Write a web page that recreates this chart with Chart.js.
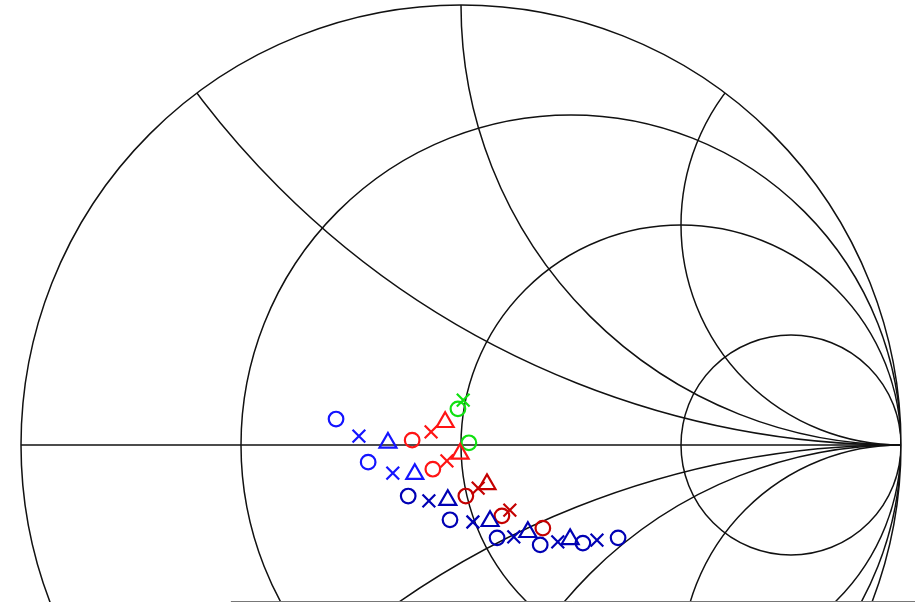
<!DOCTYPE html>
<html>
<head>
<meta charset="utf-8">
<title>Smith chart</title>
<script src="https://cdn.jsdelivr.net/npm/chart.js@4"></script>
<style>
  html, body { margin: 0; padding: 0; background: #fff; overflow: hidden; }
  #wrap { width: 915px; height: 602px; }
</style>
</head>
<body>
<div id="wrap"><canvas id="smith" width="915" height="602"></canvas></div>
<script>
let blueRe   = [-0.284, -0.232, -0.166, -0.211, -0.155, -0.105];
let blueIm   = [ 0.059,  0.020,  0.005, -0.039, -0.064, -0.066];
let blueMark = ["circle", "crossRot", "triangle", "circle", "crossRot", "triangle"];

let navyRe   = [-0.120, -0.073, -0.030, -0.025, 0.027, 0.066, 0.082, 0.120, 0.152, 0.180, 0.220, 0.248, 0.277, 0.309, 0.357];
let navyIm   = [-0.116, -0.127, -0.125, -0.170, -0.175, -0.173, -0.211, -0.209, -0.198, -0.227, -0.220, -0.214, -0.223, -0.216, -0.211];
let navyMark = ["circle", "crossRot", "triangle", "circle", "crossRot", "triangle", "circle", "crossRot", "triangle", "circle", "crossRot", "triangle", "circle", "crossRot", "circle"];

let redRe    = [-0.111, -0.068, -0.036, -0.064, -0.032, -0.002];
let redIm    = [ 0.011,  0.030,  0.052, -0.055, -0.036, -0.020];
let redMark  = ["circle", "crossRot", "triangle", "circle", "crossRot", "triangle"];

let maroonRe   = [0.011, 0.039, 0.059, 0.093, 0.111, 0.186];
let maroonIm   = [-0.116, -0.098, -0.089, -0.161, -0.148, -0.189];
let maroonMark = ["circle", "crossRot", "triangle", "circle", "crossRot", "circle"];

let greenRe   = [-0.007, 0.005, 0.018];
let greenIm   = [ 0.082, 0.102, 0.005];
let greenMark = ["circle", "crossRot", "circle"];

// grid of the chart
let resistances = [1 / 3, 1, 3];
let reactances = [0.5, 1, 2];

function pts(re, im) {
    return re.map(function(v, i) { return { x: v, y: im[i] }; });
}

function series(label, re, im, marks, color) {
    return {
        label: label,
        data: pts(re, im),
        pointStyle: marks,
        pointRadius: marks.map(function(m) { return m == "triangle" ? 9.8 : (m == "crossRot" ? 9 : 7.3); }),
        pointBorderColor: color,
        pointBackgroundColor: "rgba(0,0,0,0)",
        pointBorderWidth: 2.2,
        showLine: false
    };
}

// draws the smith chart grid under the points
let smithGrid = {
    id: "smithGrid",
    beforeDatasetsDraw: function(chart) {
        let ctx = chart.ctx;
        let xs = chart.scales.x, ys = chart.scales.y;
        let cx = xs.getPixelForValue(0), cy = ys.getPixelForValue(0);
        let R = xs.getPixelForValue(1) - cx;

        ctx.save();
        ctx.strokeStyle = "#111";
        ctx.lineWidth = 1.5;

        ctx.beginPath();
        ctx.arc(cx, cy, R, 0, Math.PI * 2);
        ctx.stroke();

        ctx.beginPath();
        ctx.arc(cx, cy, R, 0, Math.PI * 2);
        ctx.clip();

        resistances.forEach(function(r) {
            ctx.beginPath();
            ctx.arc(xs.getPixelForValue(r / (1 + r)), cy, R / (1 + r), 0, Math.PI * 2);
            ctx.stroke();
        });

        reactances.forEach(function(x) {
            [1, -1].forEach(function(s) {
                ctx.beginPath();
                ctx.arc(xs.getPixelForValue(1), ys.getPixelForValue(s / x), R / x, 0, Math.PI * 2);
                ctx.stroke();
            });
        });

        ctx.beginPath();
        ctx.moveTo(cx - R, cy);
        ctx.lineTo(cx + R, cy);
        ctx.stroke();
        ctx.restore();

        // frame line along the bottom edge
        ctx.save();
        ctx.strokeStyle = "#777";
        ctx.lineWidth = 1;
        ctx.beginPath();
        ctx.moveTo(xs.getPixelForValue(-0.523), chart.chartArea.bottom - 0.5);
        ctx.lineTo(chart.chartArea.right, chart.chartArea.bottom - 0.5);
        ctx.stroke();
        ctx.restore();
    }
};

new Chart(document.getElementById("smith").getContext("2d"), {
    type: "scatter",
    data: {
        datasets: [
            series("A", blueRe, blueIm, blueMark, "#1414ff"),
            series("B", navyRe, navyIm, navyMark, "#0000b4"),
            series("C", redRe, redIm, redMark, "#ff1414"),
            series("D", maroonRe, maroonIm, maroonMark, "#c40000"),
            series("E", greenRe, greenIm, greenMark, "#10e010")
        ]
    },
    options: {
        responsive: false,
        animation: false,
        layout: { padding: 0, autoPadding: false },
        plugins: { legend: { display: false }, tooltip: { enabled: false } },
        scales: {
            x: { type: "linear", display: false, min: -461 / 440, max: 454 / 440 },
            y: { type: "linear", display: false, min: -157 / 440, max: 445 / 440 }
        }
    },
    plugins: [smithGrid]
});
</script>
</body>
</html>
